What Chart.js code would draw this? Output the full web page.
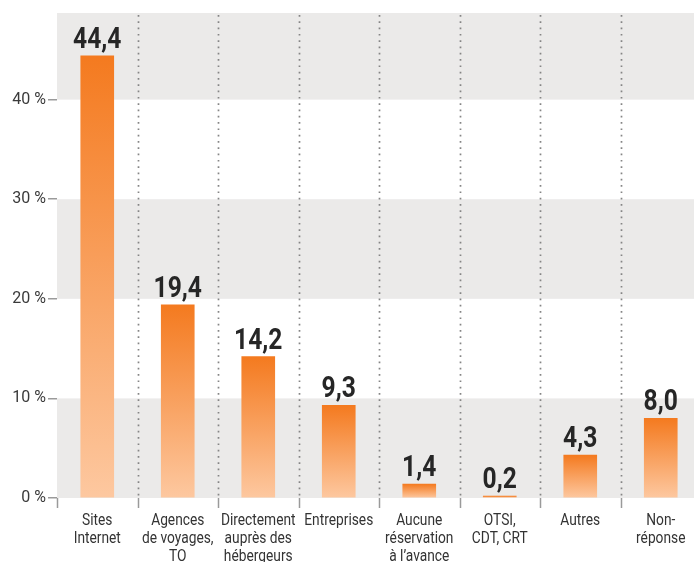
<!DOCTYPE html>
<html>
<head>
<meta charset="utf-8">
<script src="https://cdn.jsdelivr.net/npm/chart.js@4"></script>
<style>
  html, body { margin: 0; padding: 0; background: #fff; overflow: hidden; }
  canvas { display: block; }
</style>
</head>
<body>
<canvas id="resaChart" width="701" height="562" style="width:701px;height:562px"></canvas>
<script>
// categories (each entry = lines of the label)
const categories = [
  ['Sites', 'Internet'],
  ['Agences', 'de voyages,', 'TO'],
  ['Directement', 'auprès des', 'hébergeurs'],
  ['Entreprises'],
  ['Aucune', 'réservation', 'à l’avance'],
  ['OTSI,', 'CDT, CRT'],
  ['Autres'],
  ['Non-', 'réponse']
];
const values = [44.4, 19.4, 14.2, 9.3, 1.4, 0.2, 4.3, 8.0];
const yTicks = [0, 10, 20, 30, 40];
const yMax = 48.7;

function fmt(v) {
  return v.toFixed(1).replace('.', ',');
}

// grey/white bands, dotted separators and little ticks under the axis
const backdrop = {
  id: 'backdrop',
  beforeDraw(chart) {
    const { ctx, chartArea, scales } = chart;
    const y = scales.y;
    ctx.save();
    ctx.fillStyle = '#ebeae9';
    const edges = yTicks.concat([yMax]);
    for (let i = 0; i < edges.length - 1; i += 2) {
      const top = y.getPixelForValue(edges[i + 1]);
      const bot = y.getPixelForValue(edges[i]);
      ctx.fillRect(chartArea.left, top, chartArea.right - chartArea.left, bot - top);
    }

    const step = (chartArea.right - chartArea.left) / categories.length;
    ctx.strokeStyle = '#858585';
    ctx.lineWidth = 1.7;
    ctx.setLineDash([1.7, 4.6]);
    for (let k = 1; k < categories.length; k++) {
      const x = Math.round(chartArea.left + k * step) + 0.5;
      ctx.beginPath();
      ctx.moveTo(x, chartArea.top + 2);
      ctx.lineTo(x, chartArea.bottom);
      ctx.stroke();
    }
    ctx.setLineDash([]);
    ctx.strokeStyle = '#9a9a9a';
    ctx.lineWidth = 1.5;
    for (let k = 0; k <= categories.length; k++) {
      const x = Math.round(chartArea.left + k * step) + 0.5;
      ctx.beginPath();
      ctx.moveTo(x, chartArea.bottom);
      ctx.lineTo(x, chartArea.bottom + 10);
      ctx.stroke();
    }
    ctx.restore();
  },
  afterDatasetsDraw(chart) {
    const { ctx, chartArea } = chart;
    const meta = chart.getDatasetMeta(0);
    ctx.save();
    // values above bars (condensed look)
    ctx.fillStyle = '#262626';
    ctx.textAlign = 'center';
    ctx.textBaseline = 'alphabetic';
    ctx.font = 'bold 30px Roboto';
    meta.data.forEach((bar, i) => {
      ctx.save();
      ctx.translate(bar.x, bar.y - 8);
      ctx.scale(0.82, 1);
      ctx.fillText(fmt(values[i]), 0, 0);
      ctx.restore();
    });
    // category labels
    ctx.fillStyle = '#333';
    ctx.font = '16px Roboto';
    ctx.textBaseline = 'middle';
    meta.data.forEach((bar, i) => {
      categories[i].forEach((line, j) => {
        ctx.save();
        ctx.translate(bar.x, chartArea.bottom + 23 + j * 18);
        ctx.scale(0.86, 1);
        ctx.fillText(line, 0, 0);
        ctx.restore();
      });
    });
    ctx.restore();
  }
};

const ctx = document.getElementById('resaChart').getContext('2d');
const chart = new Chart(ctx, {
  type: 'bar',
  data: {
    labels: categories.map(c => c.join(' ')),
    datasets: [{
      data: values,
      backgroundColor(c) {
        const chart = c.chart;
        const y = chart.scales.y;
        if (!chart.chartArea || !y || c.raw === undefined) return '#f6914a';
        const top = y.getPixelForValue(c.raw);
        const base = y.getPixelForValue(0);
        if (!isFinite(top) || !isFinite(base)) return '#f6914a';
        const g = chart.ctx.createLinearGradient(0, top, 0, base);
        g.addColorStop(0, '#f47a1f');
        g.addColorStop(1, '#fdc8a0');
        return g;
      },
      borderWidth: 0,
      barThickness: 33
    }]
  },
  options: {
    responsive: false,
    devicePixelRatio: 1,
    animation: false,
    layout: { padding: { top: 13, right: 0, bottom: 64, left: 0 } },
    plugins: {
      legend: { display: false },
      tooltip: { enabled: false }
    },
    scales: {
      x: {
        display: false
      },
      y: {
        min: 0,
        max: yMax,
        border: { display: false },
        grid: {
          drawOnChartArea: false,
          drawTicks: true,
          tickLength: 9,
          color: '#9a9a9a',
          lineWidth: 1.5
        },
        ticks: {
          stepSize: 10,
          includeBounds: false,
          padding: 2,
          color: '#3a3a3a',
          font: { family: 'Roboto', size: 16 },
          callback: v => v + ' %'
        },
        afterFit(scale) { scale.width = 57; }
      }
    }
  },
  plugins: [backdrop]
});
chart.update();
</script>
</body>
</html>
